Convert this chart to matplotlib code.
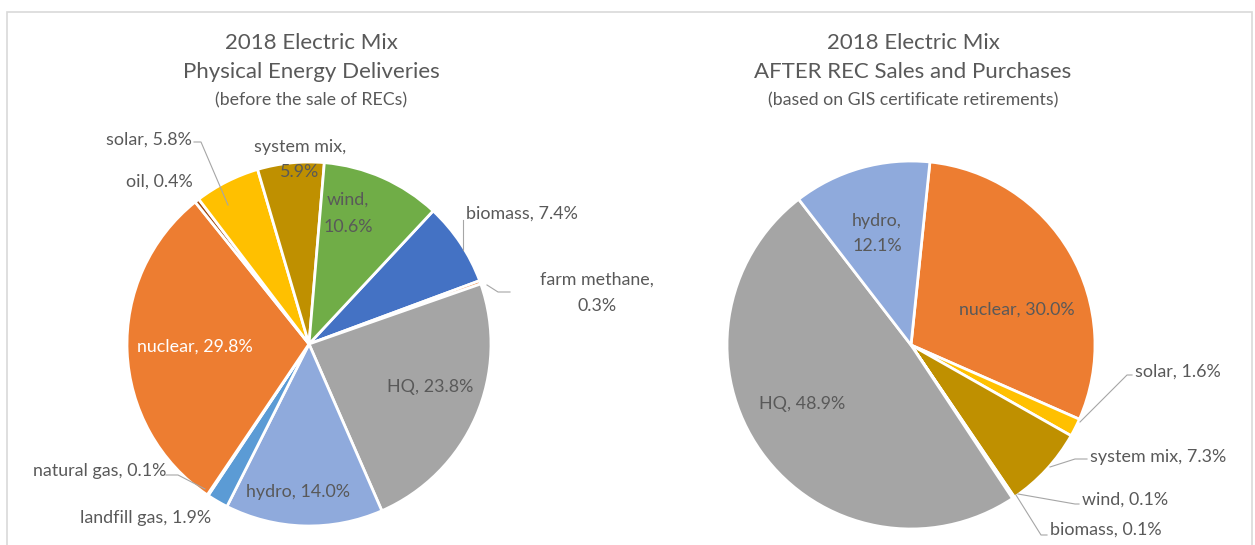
import matplotlib.pyplot as plt
from matplotlib.patches import Rectangle

# left chart: physical deliveries (clockwise from 43 deg)
phys_names = ['biomass', 'farm methane', 'HQ', 'hydro', 'landfill gas', 'natural gas',
              'nuclear', 'oil', 'solar', 'system mix', 'wind']
phys_vals = [7.4, 0.3, 23.8, 14.0, 1.9, 0.1, 29.8, 0.4, 5.8, 5.9, 10.6]

# right chart: after REC sales and purchases
rec_names = ['nuclear', 'solar', 'system mix', 'wind', 'biomass', 'HQ', 'hydro']
rec_vals = [30.0, 1.6, 7.3, 0.1, 0.1, 48.9, 12.1]

colors = {
    'biomass': '#4472C4', 'farm methane': '#ED7D31', 'HQ': '#A5A5A5',
    'hydro': '#8FAADC', 'landfill gas': '#5B9BD5', 'natural gas': '#264478',
    'nuclear': '#ED7D31', 'oil': '#9E480E', 'solar': '#FFC000',
    'system mix': '#BF9000', 'wind': '#70AD47',
}

W, H = 1255, 545
TXT = '#595959'
LINE = '#A6A6A6'
plt.rcParams['font.family'] = ['Lato', 'DejaVu Sans']


def Y(v):
    return H - v


def lbl(name, v):
    return f'{name}, {v:.1f}%'


fig = plt.figure(figsize=(W / 100, H / 100), dpi=100)
ax = fig.add_axes([0, 0, 1, 1])

ax.add_patch(Rectangle((7, -5), 1245, Y(12) + 5, fill=False, ec='#D9D9D9', lw=1.2))

# pies
ax.pie(phys_vals, colors=[colors[n] for n in phys_names], center=(309, Y(344)), radius=182,
       startangle=47, counterclock=False, wedgeprops=dict(edgecolor='white', linewidth=2),
       frame=True)
ax.pie(rec_vals, colors=[colors[n] for n in rec_names], center=(911, Y(345)), radius=184,
       startangle=84.1, counterclock=False, wedgeprops=dict(edgecolor='white', linewidth=2),
       frame=True)
ax.set_xlim(0, W)
ax.set_ylim(0, H)
ax.axis('off')

# titles
for cx, t1, t2, t3 in [(311, '2018 Electric Mix', 'Physical Energy Deliveries', '(before the sale of RECs)'),
                       (913, '2018 Electric Mix', 'AFTER REC Sales and Purchases',
                        '(based on GIS certificate retirements)')]:
    ax.text(cx, Y(43), t1, ha='center', va='center', fontsize=16, color=TXT)
    ax.text(cx, Y(72), t2, ha='center', va='center', fontsize=16, color=TXT)
    ax.text(cx, Y(100), t3, ha='center', va='center', fontsize=12.8, color=TXT)

fs = 12.9
pv = dict(zip(phys_names, phys_vals))
rv = dict(zip(rec_names, rec_vals))

# left labels
ax.text(192, Y(140), lbl('solar', pv['solar']), ha='right', va='center', fontsize=fs, color=TXT)
ax.plot([194, 201, 228], [Y(142), Y(142), Y(205)], color=LINE, lw=0.8)
ax.text(193, Y(182), lbl('oil', pv['oil']), ha='right', va='center', fontsize=fs, color=TXT)
ax.text(300, Y(147), 'system mix,', ha='center', va='center', fontsize=fs, color=TXT)
ax.text(300, Y(172), f"{pv['system mix']:.1f}%", ha='center', va='center', fontsize=fs, color=TXT)
ax.text(348, Y(200), 'wind,', ha='center', va='center', fontsize=fs, color=TXT)
ax.text(348, Y(227), f"{pv['wind']:.1f}%", ha='center', va='center', fontsize=fs, color=TXT)
ax.text(466, Y(214), lbl('biomass', pv['biomass']), ha='left', va='center', fontsize=fs, color=TXT)
ax.plot([463, 463], [Y(220), Y(250)], color=LINE, lw=0.8)
ax.text(597, Y(280), 'farm methane,', ha='center', va='center', fontsize=fs, color=TXT)
ax.text(597, Y(306), f"{pv['farm methane']:.1f}%", ha='center', va='center', fontsize=fs, color=TXT)
ax.plot([487, 498, 510], [Y(285), Y(292), Y(292)], color=LINE, lw=0.8)
ax.text(195, Y(347), lbl('nuclear', pv['nuclear']), ha='center', va='center', fontsize=fs, color='white')
ax.text(430, Y(387), lbl('HQ', pv['HQ']), ha='center', va='center', fontsize=fs, color=TXT)
ax.text(298, Y(492), lbl('hydro', pv['hydro']), ha='center', va='center', fontsize=fs, color=TXT)
ax.text(166, Y(471), lbl('natural gas', pv['natural gas']), ha='right', va='center', fontsize=fs, color=TXT)
ax.plot([166, 178, 205], [Y(475), Y(475), Y(489)], color=LINE, lw=0.8)
ax.text(211, Y(518), lbl('landfill gas', pv['landfill gas']), ha='right', va='center', fontsize=fs, color=TXT)

# right labels
ax.text(877, Y(221), 'hydro,', ha='center', va='center', fontsize=fs, color=TXT)
ax.text(877, Y(246), f"{rv['hydro']:.1f}%", ha='center', va='center', fontsize=fs, color=TXT)
ax.text(1017, Y(310), lbl('nuclear', rv['nuclear']), ha='center', va='center', fontsize=fs, color=TXT)
ax.text(802, Y(404), lbl('HQ', rv['HQ']), ha='center', va='center', fontsize=fs, color=TXT)
ax.text(1135, Y(372), lbl('solar', rv['solar']), ha='left', va='center', fontsize=fs, color=TXT)
ax.plot([1132, 1127, 1080], [Y(375), Y(375), Y(422)], color=LINE, lw=0.8)
ax.text(1090, Y(457), lbl('system mix', rv['system mix']), ha='left', va='center', fontsize=fs, color=TXT)
ax.plot([1087, 1075, 1050], [Y(459), Y(459), Y(467)], color=LINE, lw=0.8)
ax.text(1082, Y(500), lbl('wind', rv['wind']), ha='left', va='center', fontsize=fs, color=TXT)
ax.plot([1079, 1075, 1018], [Y(504), Y(504), Y(494)], color=LINE, lw=0.8)
ax.text(1050, Y(530), lbl('biomass', rv['biomass']), ha='left', va='center', fontsize=fs, color=TXT)
ax.plot([1047, 1041, 1016], [Y(535), Y(535), Y(495)], color=LINE, lw=0.8)

fig.savefig('out.png', dpi=100)
